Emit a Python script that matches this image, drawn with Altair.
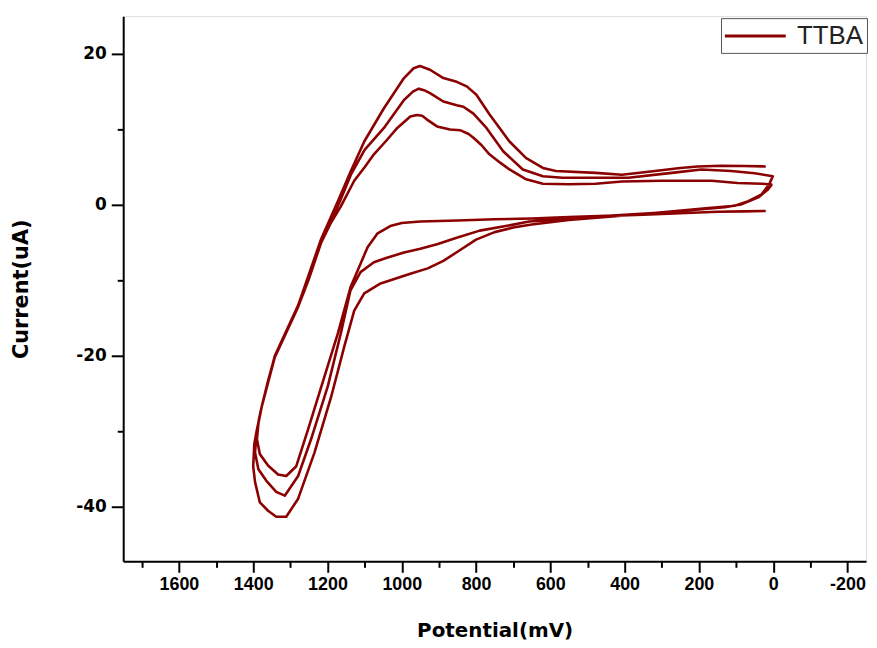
import altair as alt
import pandas as pd

# ---- data (potential in mV, current in uA) ----
# cycle 1, reverse (bottom) branch
b1_x = [20, 80, 150, 250, 350, 450, 550, 650, 750, 850, 950, 1000, 1031, 1066, 1092, 1111, 1138, 1172, 1208, 1252, 1284, 1311, 1333, 1360, 1382, 1390]
b1_y = [-0.8, -0.85, -0.9, -1.1, -1.3, -1.45, -1.6, -1.8, -1.9, -2.05, -2.2, -2.4, -2.8, -3.8, -5.6, -7.8, -10.9, -17.0, -22.7, -29.7, -34.6, -35.9, -35.7, -34.5, -33.0, -31.0]
# cycle 1, top branch
t1_x = [1390, 1385, 1377, 1360, 1342, 1310, 1279, 1250, 1217, 1190, 1164, 1128, 1100, 1075, 1040, 1012, 977, 959, 945, 932, 905, 870, 843, 820, 807, 785, 764, 735, 710, 665, 620, 550, 478, 407, 300, 166, 96, 30, 5]
t1_y = [-31.0, -28.5, -26.7, -23.3, -20.1, -16.6, -13.5, -9.8, -5.0, -2.3, -0.2, 3.2, 5.0, 6.7, 8.6, 10.2, 11.7, 11.9, 11.8, 11.3, 10.4, 10.0, 9.9, 9.4, 8.9, 7.9, 6.7, 5.6, 4.7, 3.4, 2.8, 2.75, 2.8, 3.1, 3.2, 3.2, 2.9, 2.8, 2.7]
# cycle 2
b2_x = [5, 15, 40, 84, 130, 200, 300, 400, 500, 600, 657, 720, 790, 850, 905, 950, 994, 1040, 1075, 1111, 1138, 1164, 1199, 1244, 1279, 1315, 1338, 1365, 1386, 1395]
b2_y = [2.6, 2.0, 1.0, 0.1, -0.3, -0.6, -1.0, -1.3, -1.6, -2.0, -2.2, -2.8, -3.4, -4.3, -5.2, -5.8, -6.3, -7.0, -7.6, -8.9, -11.3, -17.0, -24.0, -31.0, -35.9, -38.5, -38.0, -36.5, -35.0, -32.8]
t2_x = [1395, 1391, 1377, 1342, 1279, 1217, 1168, 1137, 1100, 1048, 994, 970, 954, 940, 924, 888, 852, 834, 807, 772, 727, 674, 620, 567, 497, 390, 273, 193, 113, 50, 1]
t2_y = [-32.8, -30.2, -26.7, -20.2, -13.5, -4.7, 0.3, 4.0, 7.3, 10.2, 13.9, 15.0, 15.4, 15.2, 14.8, 13.7, 13.2, 13.0, 12.1, 10.2, 7.1, 4.7, 3.8, 3.6, 3.6, 3.6, 4.25, 4.7, 4.5, 4.2, 3.8]
# cycle 3
b3_x = [1, 10, 31, 67, 103, 174, 262, 350, 450, 550, 600, 650, 700, 750, 800, 850, 888, 930, 977, 1057, 1101, 1128, 1155, 1190, 1235, 1279, 1311, 1338, 1360, 1382, 1395, 1400]
b3_y = [3.8, 2.8, 1.4, 0.5, -0.1, -0.4, -0.8, -1.2, -1.6, -2.0, -2.3, -2.6, -3.0, -3.6, -4.6, -6.2, -7.4, -8.4, -9.1, -10.4, -11.7, -14.0, -18.8, -25.4, -32.8, -38.9, -41.3, -41.3, -40.5, -39.4, -36.7, -34.6]
t3_x = [1400, 1397, 1391, 1377, 1342, 1279, 1217, 1172, 1137, 1101, 1048, 994, 968, 951, 924, 888, 852, 825, 799, 764, 710, 665, 620, 585, 478, 407, 318, 250, 203, 140, 80, 20]
t3_y = [-34.6, -31.7, -30.0, -26.7, -20.0, -13.3, -4.5, 0.5, 4.5, 8.4, 12.8, 16.8, 18.1, 18.4, 17.9, 16.8, 16.3, 15.7, 14.6, 12.0, 8.4, 6.2, 4.9, 4.5, 4.25, 4.0, 4.5, 4.9, 5.1, 5.2, 5.15, 5.1]

series_name = "TTBA"
x_ticks = list(range(-200, 1701, 100))
y_ticks = list(range(-40, 21, 10))

xs = b1_x + t1_x + b2_x + t2_x + b3_x + t3_x
ys = b1_y + t1_y + b2_y + t2_y + b3_y + t3_y
df = pd.DataFrame({
    "potential": xs,
    "current": ys,
    "idx": list(range(len(xs))),
    "series": [series_name] * len(xs),
})

line_color = "#8B0000"

chart = alt.Chart(df).mark_line(strokeWidth=2.6, strokeJoin="round").encode(
    x=alt.X(
        "potential:Q",
        scale=alt.Scale(domain=[-250, 1750], reverse=True, nice=False, zero=False),
        axis=alt.Axis(
            values=x_ticks,
            labelExpr="datum.value % 200 === 0 ? '' + datum.value : ''",
            tickSize={"condition": {"test": "datum.value % 200 === 0", "value": 11}, "value": 6},
            tickWidth=2, tickColor="black", domainWidth=2, domainColor="black",
            labelFont="Liberation Sans", labelFontSize=18, labelFontWeight="bold",
            labelColor="black", labelPadding=3, labelFlush=False, labelOverlap=False,
            grid=False,
            title="Potential(mV)", titleFont="DejaVu Sans", titleFontSize=20,
            titleFontWeight="bold", titleColor="black",
            titleX=374, titleY=70, titleAlign="center", titleBaseline="middle",
        ),
    ),
    y=alt.Y(
        "current:Q",
        scale=alt.Scale(domain=[-47.2, 25], nice=False, zero=False),
        axis=alt.Axis(
            values=y_ticks,
            labelExpr="datum.value % 20 === 0 ? '' + datum.value : ''",
            tickSize={"condition": {"test": "datum.value % 20 === 0", "value": 12}, "value": 6},
            tickWidth=2, tickColor="black", domainWidth=2, domainColor="black",
            labelFont="DejaVu Sans", labelFontSize=17, labelFontWeight="bold",
            labelColor="black", labelPadding=5, labelFlush=False, labelOverlap=False,
            grid=False,
            title="Current(uA)", titleFont="DejaVu Sans", titleFontSize=21,
            titleFontWeight="bold", titleColor="black",
            titleX=-102, titleY=274.5, titleAngle=270, titleAlign="center", titleBaseline="middle",
        ),
    ),
    order="idx:Q",
    color=alt.Color(
        "series:N",
        scale=alt.Scale(range=[line_color]),
        legend=alt.Legend(
            title=None, orient="none", legendX=602, legendY=2,
            symbolType="M-2.5,0H2.5", symbolSize=600, symbolStrokeWidth=3,
            symbolStrokeColor=line_color, symbolFillColor="transparent",
            symbolOffset=16.5,
            labelFont="Liberation Sans", labelFontSize=26, labelColor="#222",
            labelOffset=28, padding=4, strokeColor="#555", fillColor="white",
        ),
    ),
).properties(
    width=748,
    height=549,
    autosize=alt.AutoSizeParams(type="none"),
    padding={"left": 116, "top": 6, "right": 3, "bottom": 80},
).configure_view(
    stroke="black", strokeWidth=2
).configure(background="white")

chart.save("out.html", embed_options={"renderer": "svg", "actions": False})
